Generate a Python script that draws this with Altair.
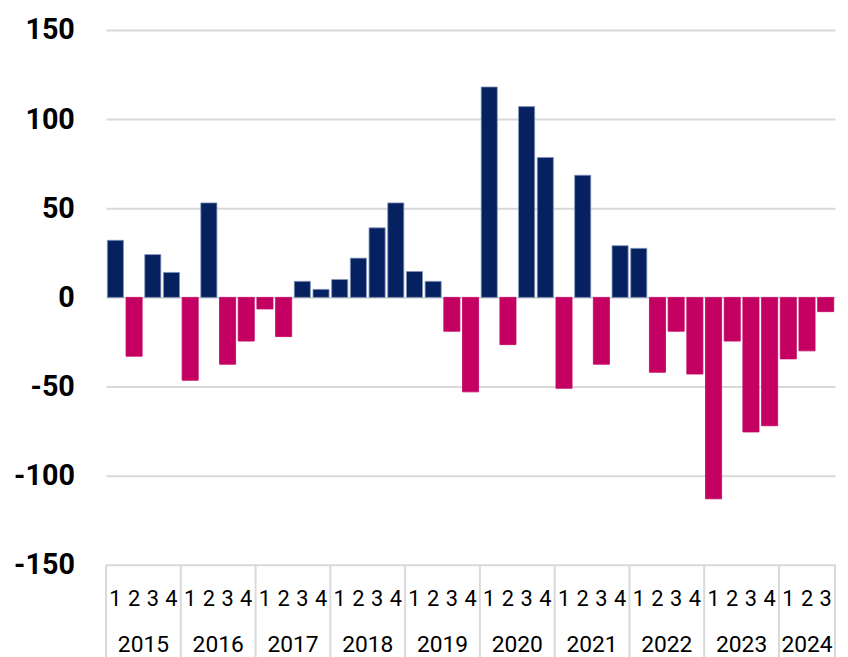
import altair as alt
import pandas as pd

years = [2015, 2016, 2017, 2018, 2019, 2020, 2021, 2022, 2023, 2024]
quarters = [1, 2, 3, 4]
values = [
    32, -33, 24, 14,
    -46.5, 53, -37.5, -24.5,
    -6.5, -22, 9, 4.5,
    10, 22, 39, 53,
    14.5, 9, -19, -53,
    118, -26.5, 107, 78.5,
    -51, 68.5, -37.5, 29,
    27.5, -42, -19, -43,
    -113, -24.5, -75.5, -72,
    -34.5, -30, -8,
]

rows = []
i = 0
for y in years:
    for q in quarters:
        if i < len(values):
            rows.append({"idx": i, "year": str(y), "q": str(q), "value": values[i],
                         "sign": "pos" if values[i] >= 0 else "neg"})
            i += 1
df = pd.DataFrame(rows)

NAVY = "#06215f"
MAGENTA = "#c40062"
GRID = "#d9d9d9"
W, H = 736, 540
FONT = "Roboto"

xscale = alt.Scale(domain=[-0.5, len(values) - 0.5], nice=False, zero=False)
yscale = alt.Scale(domain=[-150, 150], nice=False)

base = alt.Chart(df)

bars = base.transform_calculate(
    x0="datum.idx - 0.43", x1="datum.idx + 0.43", zero="0"
).mark_bar(strokeWidth=0.8).encode(
    x=alt.X("x0:Q", scale=xscale, axis=None),
    x2="x1:Q",
    y=alt.Y("value:Q", scale=yscale,
            axis=alt.Axis(values=[-150, -100, -50, 0, 50, 100, 150], grid=True,
                          gridColor=GRID, gridWidth=2, domain=False, ticks=False,
                          tickSize=0, labelPadding=32, labelFont=FONT,
                          labelFontSize=29, labelFontWeight="bold", labelColor="#000",
                          labelExpr="toString(datum.value)",
                          title=None)),
    y2="zero:Q",
    color=alt.Color("sign:N", scale=alt.Scale(domain=["pos", "neg"], range=[NAVY, MAGENTA]), legend=None),
    stroke=alt.Stroke("sign:N", scale=alt.Scale(domain=["pos", "neg"], range=["#8193bb", MAGENTA]), legend=None),
)

qlabels = base.mark_text(font=FONT, fontSize=22, color="#000", baseline="middle").encode(
    x=alt.X("idx:Q", scale=xscale, axis=None),
    y=alt.value(H + 35),
    text="q:N",
)

ylabels = base.transform_aggregate(
    center="mean(idx)", groupby=["year"]
).mark_text(font=FONT, fontSize=23, color="#000", baseline="middle").encode(
    x=alt.X("center:Q", scale=xscale, axis=None),
    y=alt.value(H + 81),
    text="year:N",
)

seps = base.transform_aggregate(
    start="min(idx)", groupby=["year"]
).transform_calculate(b="datum.start - 0.5").mark_rule(color=GRID, strokeWidth=2).encode(
    x=alt.X("b:Q", scale=xscale, axis=None),
    y=alt.value(H),
    y2=alt.value(H + 100),
)

right_edge = base.transform_aggregate(
    last="max(idx)"
).transform_calculate(b="datum.last + 0.5").mark_rule(color=GRID, strokeWidth=2).encode(
    x=alt.X("b:Q", scale=xscale, axis=None),
    y=alt.value(H),
    y2=alt.value(H + 100),
)

chart = alt.layer(bars, seps, right_edge, qlabels, ylabels).properties(
    width=W, height=H,
    autosize=alt.AutoSizeParams(type="none"),
    padding={"left": 99, "top": 19, "right": 5, "bottom": 98},
).configure_view(stroke=None)

chart.save("out.html", embed_options={"renderer": "svg", "actions": False})
